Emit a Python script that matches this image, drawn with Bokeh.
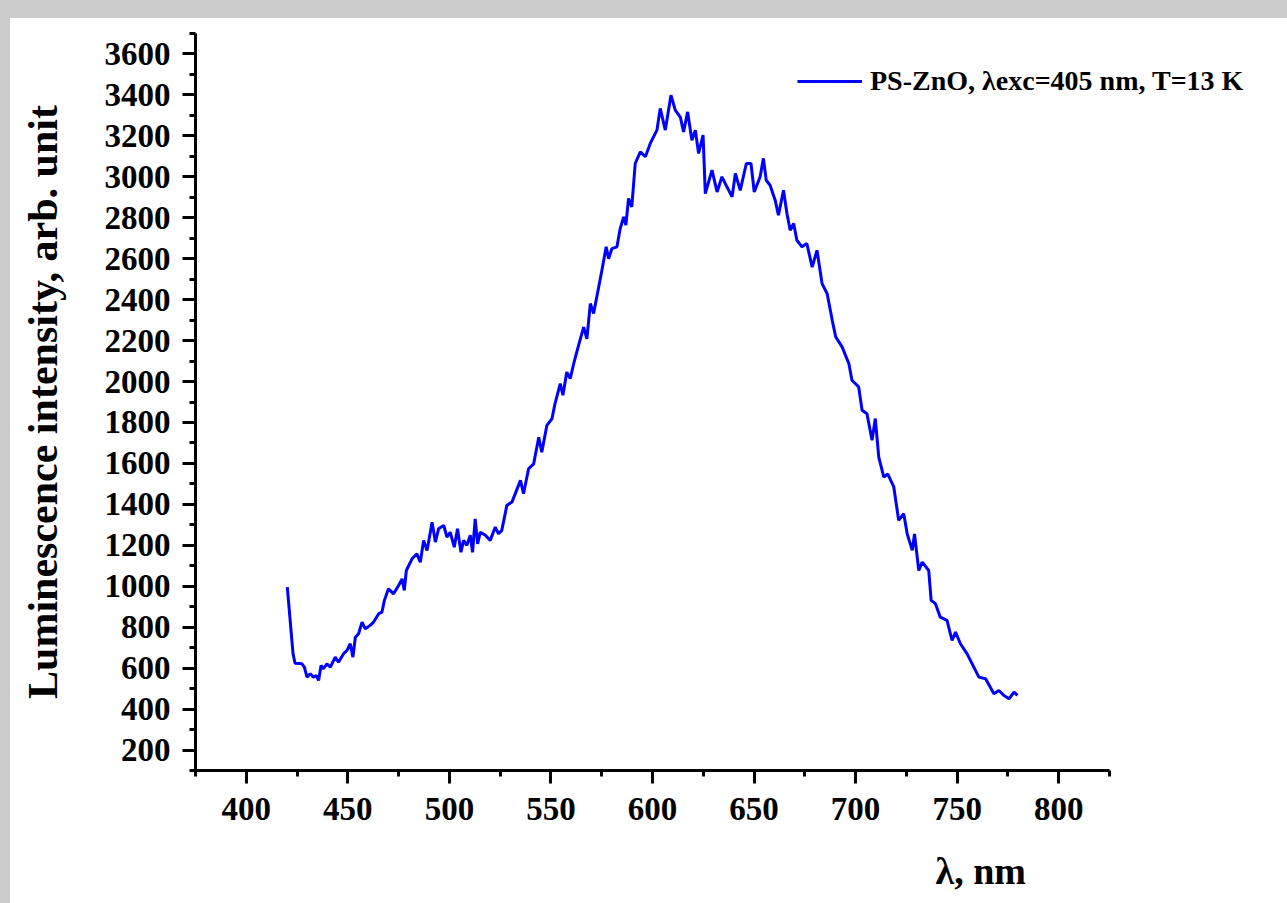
from bokeh.plotting import figure
from bokeh.models import Range1d, SingleIntervalTicker, Legend, LegendItem, Spacer, Title
from bokeh.layouts import column, row
from bokeh.embed import file_html
from bokeh.resources import INLINE

# wavelength, nm
wavelength = [420.2, 423.0, 424.0, 427.4, 428.6, 429.9, 431.5, 433.1, 434.5, 435.6, 436.8, 438.0,
              439.7, 441.4, 443.8, 445.4, 447.9, 449.6, 451.2, 452.5, 453.7, 455.3, 457.0, 458.6,
              461.0, 462.7, 465.2, 466.8, 468.0, 470.0, 472.5, 475.0, 476.7, 477.8, 478.8, 481.6,
              484.0, 485.7, 487.3, 489.0, 491.5, 493.1, 494.7, 497.2, 498.8, 500.4, 502.4, 504.0,
              505.7, 507.0, 508.6, 510.3, 511.4, 512.7, 513.9, 515.2, 517.7, 520.1, 522.6, 524.2,
              525.8, 528.3, 530.8, 535.0, 536.5, 539.0, 541.5, 544.0, 545.5, 548.0, 550.5, 552.0,
              554.6, 555.9, 557.8, 559.5, 561.2, 563.6, 566.1, 567.7, 569.4, 571.0, 575.1, 577.2,
              578.4, 580.0, 582.5, 584.1, 585.8, 586.9, 588.2, 589.8, 591.5, 594.0, 596.5, 598.9,
              602.2, 603.8, 606.3, 609.1, 611.2, 613.7, 615.3, 617.3, 619.4, 621.1, 622.7, 624.9,
              626.0, 629.3, 631.8, 634.2, 636.7, 639.2, 640.8, 643.2, 646.2, 648.5, 650.1, 653.0,
              654.6, 656.0, 657.9, 660.4, 662.0, 664.5, 666.2, 667.8, 669.5, 671.1, 673.6, 676.0,
              678.6, 681.0, 683.5, 686.0, 688.5, 690.2, 693.4, 696.7, 698.2, 701.5, 703.2, 705.6,
              708.1, 709.7, 711.4, 713.9, 715.8, 718.8, 721.2, 723.7, 725.4, 727.9, 729.0, 731.1,
              732.8, 736.0, 737.2, 739.3, 741.7, 745.0, 747.5, 749.2, 751.6, 754.9, 758.2, 760.7,
              764.0, 768.1, 770.5, 773.0, 775.5, 778.0, 779.7]

# luminescence intensity, arb. unit
intensity = [996, 672, 624, 621, 605, 556, 573, 556, 564, 540, 613, 597,
             621, 605, 654, 629, 670, 687, 719, 654, 751, 768, 825, 792,
             809, 825, 866, 874, 931, 988, 963, 1004, 1036, 980, 1077, 1134,
             1158, 1117, 1224, 1175, 1313, 1216, 1281, 1297, 1240, 1264, 1191, 1281,
             1166, 1224, 1200, 1249, 1166, 1329, 1207, 1264, 1249, 1224, 1289, 1256,
             1273, 1395, 1411, 1517, 1452, 1574, 1598, 1728, 1655, 1786, 1818, 1892,
             1990, 1933, 2046, 2014, 2087, 2177, 2266, 2209, 2381, 2332, 2544, 2658,
             2600, 2649, 2658, 2747, 2804, 2764, 2894, 2853, 3065, 3122, 3098, 3163,
             3228, 3334, 3228, 3399, 3326, 3292, 3219, 3317, 3179, 3228, 3114, 3204,
             2918, 3033, 2926, 3000, 2950, 2902, 3016, 2934, 3065, 3065, 2926, 3000,
             3090, 2983, 2959, 2886, 2812, 2934, 2821, 2739, 2772, 2690, 2658, 2674,
             2559, 2641, 2478, 2429, 2299, 2219, 2168, 2087, 2006, 1974, 1860, 1843,
             1713, 1819, 1631, 1533, 1549, 1485, 1322, 1354, 1256, 1175, 1256, 1077,
             1118, 1077, 931, 915, 849, 833, 735, 776, 719, 670, 605, 556,
             548, 475, 491, 467, 450, 483, 467]

series_label = "PS-ZnO, λexc=405 nm, T=13 K"
x_title = "λ, nm"
y_title = "Luminescence intensity, arb. unit"

FONT = "Liberation Serif"
GRAY = "#cbcbcb"

# frame extends to the right beyond the x axis so the legend text is not clipped
p = figure(frame_width=1072, frame_height=737,
           min_border_left=185, min_border_right=20, min_border_top=15, min_border_bottom=133,
           x_range=Range1d(375, 902.8), y_range=Range1d(100, 3700),
           output_backend="svg", toolbar_location=None,
           background_fill_color="white", border_fill_color="white")
p.outline_line_color = None
p.xgrid.visible = False
p.ygrid.visible = False

p.xaxis.ticker = SingleIntervalTicker(interval=50, num_minor_ticks=2)
p.yaxis.ticker = SingleIntervalTicker(interval=200, num_minor_ticks=2)
p.xaxis.bounds = (375, 825)

for ax in (p.xaxis[0], p.yaxis[0]):
    ax.axis_line_width = 3
    ax.axis_line_color = "black"
    ax.major_tick_line_width = 3
    ax.minor_tick_line_width = 3
    ax.major_tick_line_color = "black"
    ax.minor_tick_line_color = "black"
    ax.major_tick_in = 0
    ax.minor_tick_in = 0
    ax.major_tick_out = 13
    ax.minor_tick_out = 6
    ax.major_label_text_font = FONT
    ax.major_label_text_font_style = "bold"
    ax.major_label_text_font_size = "33px"
    ax.major_label_text_color = "black"

p.xaxis.major_label_standoff = 14
p.yaxis.major_label_standoff = 12

p.yaxis.axis_label = y_title
p.yaxis.axis_label_text_font = FONT
p.yaxis.axis_label_text_font_style = "bold"
p.yaxis.axis_label_text_font_size = "42px"
p.yaxis.axis_label_text_color = "black"
p.yaxis.axis_label_standoff = 36

r = p.line(wavelength, intensity, line_color="#0000ff", line_width=3)

legend = Legend(items=[LegendItem(label=series_label, renderers=[r])],
                location=(602, 673), padding=0, margin=0, spacing=0,
                border_line_color=None, background_fill_alpha=0,
                glyph_width=65, glyph_height=30, label_height=30, label_standoff=8,
                label_text_font=FONT, label_text_font_style="bold",
                label_text_font_size="28px", label_text_color="black")
p.add_layout(legend)

xt = Title(text=x_title, align="left", offset=740, standoff=50,
           text_font=FONT, text_font_style="bold", text_font_size="38px",
           text_color="black")
p.add_layout(xt, "below")

top_band = Spacer(width=1287, height=18, styles={"background-color": GRAY})
left_band = Spacer(width=10, height=885, styles={"background-color": GRAY})
layout = column(top_band, row(left_band, p, spacing=0), spacing=0)

open("out.html", "w").write(file_html(layout, INLINE))
